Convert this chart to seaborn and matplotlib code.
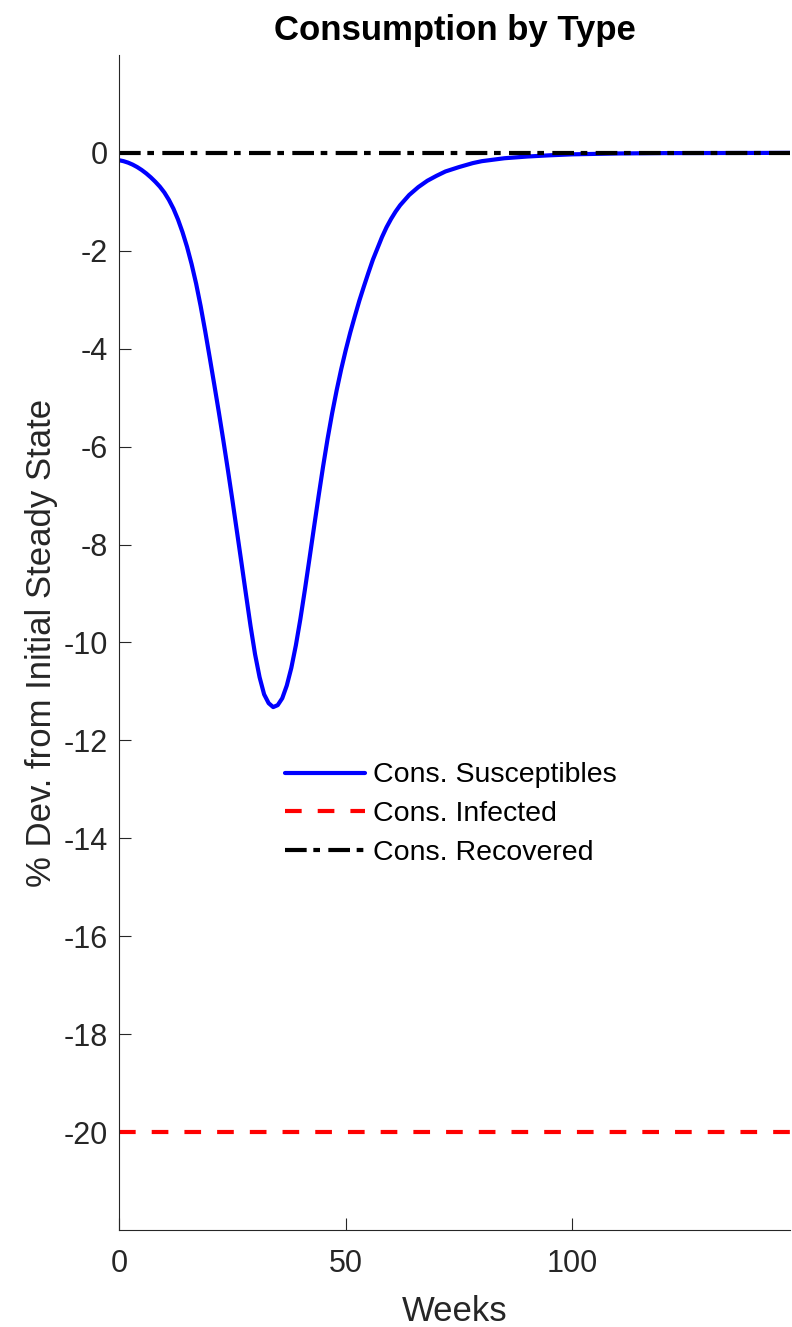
import matplotlib
matplotlib.use("Agg")
import matplotlib.pyplot as plt
import seaborn as sns
import pandas as pd

# ---- data ----
weeks = [0, 1, 2, 3, 4, 5, 6, 7, 8, 9, 10, 11, 12, 13, 14, 15, 16, 17, 18,
         19, 20, 21, 22, 23, 24, 25, 26, 27, 28, 29, 30, 31, 32, 33, 34, 35,
         36, 37, 38, 39, 40, 41, 42, 43, 44, 45, 46, 47, 48, 49, 50, 51, 52,
         53, 54, 55, 56, 57, 58, 59, 60, 61, 62, 64, 66, 68, 70, 72, 75, 78,
         80, 85, 90, 95, 100, 110, 120, 148]
cons_susceptibles = [-0.15, -0.17, -0.20, -0.24, -0.29, -0.35, -0.42, -0.50,
                     -0.59, -0.69, -0.81, -0.96, -1.14, -1.36, -1.62, -1.92,
                     -2.27, -2.67, -3.13, -3.64, -4.18, -4.73, -5.29, -5.87,
                     -6.47, -7.09, -7.73, -8.37, -9.02, -9.66, -10.24, -10.71,
                     -11.06, -11.24, -11.32, -11.28, -11.14, -10.88, -10.52,
                     -10.06, -9.52, -8.92, -8.29, -7.65, -7.02, -6.41, -5.84,
                     -5.32, -4.85, -4.42, -4.03, -3.67, -3.34, -3.02, -2.73,
                     -2.45, -2.18, -1.95, -1.72, -1.52, -1.35, -1.20, -1.07,
                     -0.86, -0.70, -0.57, -0.47, -0.38, -0.29, -0.21, -0.17,
                     -0.11, -0.075, -0.05, -0.03, -0.012, -0.005, 0.0]
weeks_flat = [0, 148]
cons_infected = [-20.0, -20.0]
cons_recovered = [0.0, 0.0]

labels = ["Cons. Susceptibles", "Cons. Infected", "Cons. Recovered"]
x_ticks = [0, 50, 100]
y_ticks = [-20, -18, -16, -14, -12, -10, -8, -6, -4, -2, 0]

df_s = pd.DataFrame({"Weeks": weeks, "val": cons_susceptibles})
df_i = pd.DataFrame({"Weeks": weeks_flat, "val": cons_infected})
df_r = pd.DataFrame({"Weeks": weeks_flat, "val": cons_recovered})

sns.set_theme(style="white")
plt.rcParams["font.family"] = ["Liberation Sans", "DejaVu Sans"]
plt.rcParams["axes.unicode_minus"] = False

axc = "#262626"
fig = plt.figure(figsize=(7.92, 13.27), dpi=100)
ax = fig.add_axes([0.1503, 0.0731, 0.8472, 0.8855])

lw = 3.0
sns.lineplot(data=df_s, x="Weeks", y="val", ax=ax, color="#0000ff", lw=lw,
             label=labels[0], sort=False)
sns.lineplot(data=df_i, x="Weeks", y="val", ax=ax, color="#ff0000", lw=lw,
             label=labels[1], sort=False)
sns.lineplot(data=df_r, x="Weeks", y="val", ax=ax, color="#000000", lw=lw,
             label=labels[2], sort=False)
ax.lines[0].set_solid_joinstyle("round")
ax.lines[1].set_dashes([4.0, 3.85])
ax.lines[2].set_dashes([5.2, 1.6, 1.6, 2.0])

ax.set_xlim(0, 148)
ax.set_ylim(-22, 2)
ax.set_xticks(x_ticks)
ax.set_yticks(y_ticks)

for side in ["top", "right"]:
    ax.spines[side].set_visible(False)
for side in ["left", "bottom"]:
    ax.spines[side].set_color(axc)
    ax.spines[side].set_linewidth(0.8)

ax.tick_params(axis="both", direction="in", length=8.6, width=0.8,
               color=axc, labelcolor=axc, labelsize=22,
               bottom=True, left=True, top=False, right=False)
ax.tick_params(axis="x", pad=14)
ax.tick_params(axis="y", pad=8)

ax.set_xlabel("Weeks", fontsize=25, color=axc, labelpad=11)
ax.set_ylabel("% Dev. from Initial Steady State", fontsize=25, color=axc,
              labelpad=4)
ax.set_title("Consumption by Type", fontsize=25, fontweight="bold",
             color="black", pad=11)

leg = ax.legend(loc="center left", bbox_to_anchor=(0.2474, 0.354),
                frameon=False, fontsize=20.5, handlelength=2.8,
                handletextpad=0.28, labelspacing=0.44, borderpad=0,
                borderaxespad=0)
for t in leg.get_texts():
    t.set_color("black")

fig.savefig("out.png", dpi=100)
